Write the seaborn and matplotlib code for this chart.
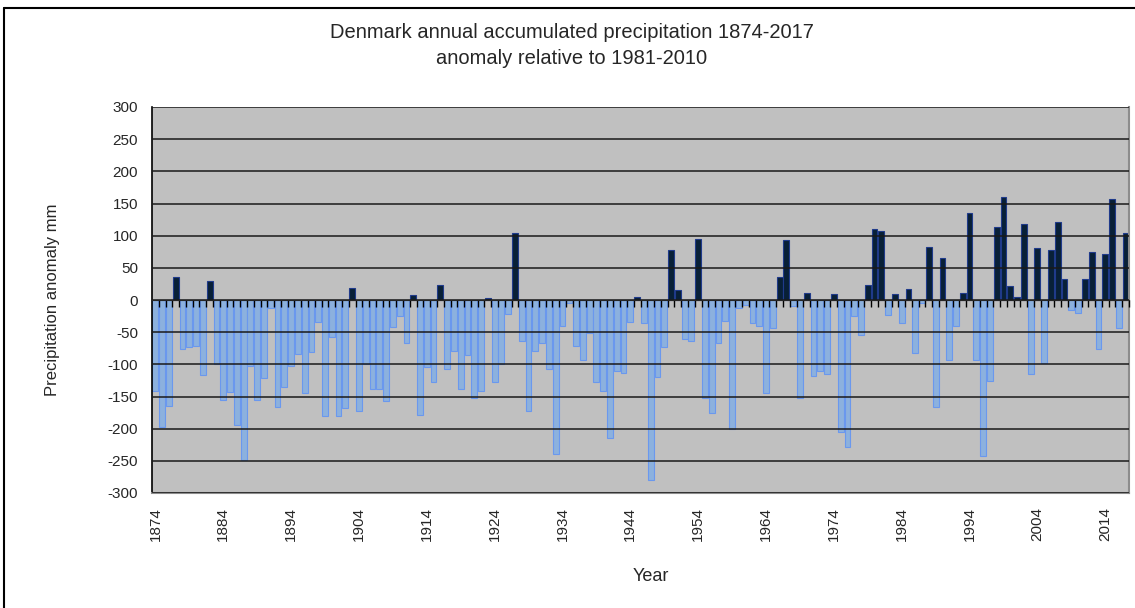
import numpy as np
import pandas as pd
import matplotlib
matplotlib.use("Agg")
import matplotlib.pyplot as plt
from matplotlib.lines import Line2D
import seaborn as sns

# annual precipitation anomaly (mm), 1874-2017
years = list(range(1874, 2018))
anomaly = [
    -141, -197, -165, 36, -76, -73, -71, -116, 30, -100,
    -155, -143, -195, -249, -103, -155, -121, -12, -166, -135,
    -103, -84, -145, -81, -34, -180, -57, -180, -168, 19,
    -172, -100, -138, -138, -157, -42, -25, -67, 7, -178,
    -104, -128, 24, -108, -80, -138, -86, -153, -141, 3,
    -128, -99, -22, 104, -64, -173, -79, -67, -108, -239,
    -41, -4, -71, -93, -51, -128, -142, -214, -110, -113,
    -34, 5, -36, -280, -120, -73, 78, 15, -61, -64,
    95, -153, -175, -67, -33, -201, -12, -7, -36, -41,
    -145, -44, 36, 93, -9, -153, 11, -118, -111, -115,
    9, -205, -229, -25, -55, 24, 110, 108, -24, 9,
    -36, 17, -83, -5, 83, -166, 66, -93, -40, 11,
    135, -93, -242, -126, 113, 160, 22, 5, 118, -115,
    81, -98, 77, 121, 32, -15, -20, 32, 74, -76,
    71, 157, -44, 104,
]
y_ticks = list(range(-300, 301, 50))
year_labels = [y for y in years if (y - 1874) % 10 == 0]

df = pd.DataFrame({"Year": years, "Anomaly": anomaly})
df["Sign"] = np.where(df["Anomaly"] >= 0, "pos", "neg")

sns.set_style("white")
plt.rcParams["font.family"] = ["Liberation Sans", "DejaVu Sans"]

fig = plt.figure(figsize=(11.35, 6.08), dpi=100)
ax = fig.add_axes([152 / 1135, 115 / 608, 977 / 1135, 386 / 608])
ax.set_facecolor("#c0c0c0")

sns.barplot(data=df, x="Year", y="Anomaly", hue="Sign",
            palette={"pos": "#00203f", "neg": "#7eb0ec"},
            width=0.86, dodge=False, legend=False, ax=ax)
for bar in ax.patches:
    bar.set_edgecolor("#1f3a8a" if bar.get_height() >= 0 else "#6a98ee")
    bar.set_linewidth(0.8)

ax.set_ylim(-300, 300)
ax.set_xlim(-0.5, len(years) - 0.5)
ax.set_yticks(y_ticks)
ax.set_yticklabels([str(t) for t in y_ticks], fontsize=11)
ax.yaxis.grid(True, color="#1a1a1a", linewidth=1.1)
ax.set_axisbelow(False)
ax.tick_params(axis="y", length=5, width=1, color="black", pad=5)

pos = [years.index(y) for y in year_labels]
ax.set_xticks(pos)
ax.set_xticklabels([str(y) for y in year_labels], rotation=90, fontsize=11)
ax.tick_params(axis="x", length=0, pad=10)

# small category ticks hanging below the zero line, drawn over the bars
zax = ax.secondary_xaxis(0.5)
zax.set_zorder(5)
zax.set_xticks(np.arange(len(years)) + 0.5)
zax.set_xticklabels([])
zax.tick_params(axis="x", length=5, width=1, color="black", direction="in")
zax.spines["bottom"].set_color("black")
zax.spines["bottom"].set_linewidth(1.2)

ax.spines["top"].set_visible(False)
ax.spines["left"].set_color("black")
ax.spines["left"].set_linewidth(1.2)
ax.spines["right"].set_color("#8c8c8c")
ax.spines["bottom"].set_color("#8c8c8c")
ax.spines["right"].set_linewidth(1.5)
ax.spines["bottom"].set_linewidth(1.5)

ax.set_xlabel("Year", fontsize=13)
ax.xaxis.set_label_coords(0.511, -0.194)
ax.set_ylabel("Precipitation anomaly mm", fontsize=12)
ax.yaxis.set_label_coords(-0.094, 0.5)

fig.text(572 / 1135, 1 - 33 / 608, "Denmark annual accumulated precipitation 1874-2017",
         ha="center", va="center", fontsize=14.5)
fig.text(572 / 1135, 1 - 58 / 608, "anomaly relative to 1981-2010",
         ha="center", va="center", fontsize=14.5)

# outer chart frame
fig.add_artist(Line2D([4 / 1135, 1.0], [1 - 8 / 608, 1 - 8 / 608], color="black", lw=1.5))
fig.add_artist(Line2D([4 / 1135, 4 / 1135], [0.0, 1 - 8 / 608], color="black", lw=1.5))

fig.savefig("out.png", dpi=100)
